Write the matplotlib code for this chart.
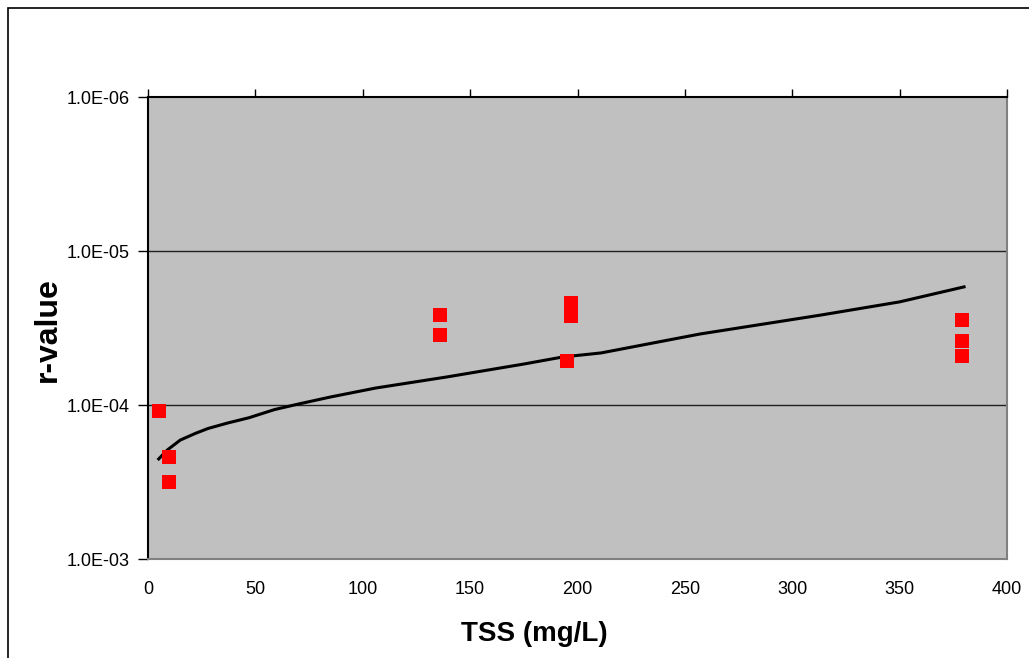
import matplotlib
matplotlib.use('Agg')
import matplotlib.pyplot as plt
from matplotlib.ticker import FuncFormatter, FixedLocator, NullLocator
from matplotlib.patches import Rectangle

plt.rcParams['font.family'] = ['Liberation Sans', 'DejaVu Sans']

# measured points
tss_meas = [5, 10, 10, 136, 136, 197, 197, 195, 379, 379, 379]
r_meas = [1.09e-4, 2.18e-4, 3.16e-4, 2.6e-5, 3.5e-5, 2.18e-5, 2.64e-5, 5.18e-5,
          2.8e-5, 3.84e-5, 4.81e-5]

# fitted curve
tss_fit = [5, 9, 15, 22, 28, 37, 47, 59, 70, 85, 106, 139, 175, 193, 211, 257,
           313, 350, 380]
r_fit = [2.24e-4, 1.96e-4, 1.69e-4, 1.53e-4, 1.42e-4, 1.31e-4, 1.21e-4, 1.07e-4,
         9.86e-5, 8.87e-5, 7.76e-5, 6.58e-5, 5.42e-5, 4.88e-5, 4.59e-5, 3.46e-5,
         2.61e-5, 2.14e-5, 1.71e-5]

x_ticks = [0, 50, 100, 150, 200, 250, 300, 350, 400]
y_ticks = [1e-6, 1e-5, 1e-4, 1e-3]

W, H = 1029, 658
fig = plt.figure(figsize=(W / 100, H / 100), dpi=100)
fig.patch.set_facecolor('white')

# outer chart frame (cut off at right and bottom)
fig.patches.append(Rectangle((8 / W, -0.1), 1.2, 1.1 - 8 / H, transform=fig.transFigure,
                             fill=False, edgecolor='black', linewidth=1.2))

ax = fig.add_axes([148 / W, 1 - 559 / H, (1007 - 148) / W, (559 - 97) / H])
ax.set_facecolor('#C0C0C0')
ax.set_yscale('log')
ax.set_xlim(0, 400)
ax.set_ylim(1e-3, 1e-6)

ax.yaxis.set_major_locator(FixedLocator(y_ticks))
ax.yaxis.set_minor_locator(NullLocator())
ax.yaxis.set_major_formatter(FuncFormatter(lambda v, p: f"{v:.1E}"))
ax.set_xticks(x_ticks)

for y in y_ticks[1:-1]:
    ax.axhline(y, color='#202020', linewidth=1.0, zorder=1)

ax.plot(tss_fit, r_fit, color='black', linewidth=2.2, zorder=3)
ax.plot(tss_meas, r_meas, linestyle='none', marker='s', markersize=9.5,
        color='#FF0000', markeredgewidth=0, zorder=4)

ax.tick_params(axis='x', top=True, bottom=False, labeltop=False, labelbottom=True,
               direction='out', length=6, width=1, labelsize=13, pad=10)
ax.tick_params(axis='y', direction='out', length=7, width=1, labelsize=13, pad=6)

ax.spines['left'].set_color('black')
ax.spines['top'].set_color('black')
ax.spines['right'].set_color('#808080')
ax.spines['bottom'].set_color('#808080')
for s in ax.spines.values():
    s.set_linewidth(1.5)

fig.text(534 / W, 1 - 634 / H, 'TSS (mg/L)', ha='center', va='center',
         fontsize=20, fontweight='bold')
fig.text(48 / W, 1 - 330 / H, 'r-value', ha='center', va='center', rotation=90,
         fontsize=23, fontweight='bold')

fig.savefig('out.png', dpi=100)
